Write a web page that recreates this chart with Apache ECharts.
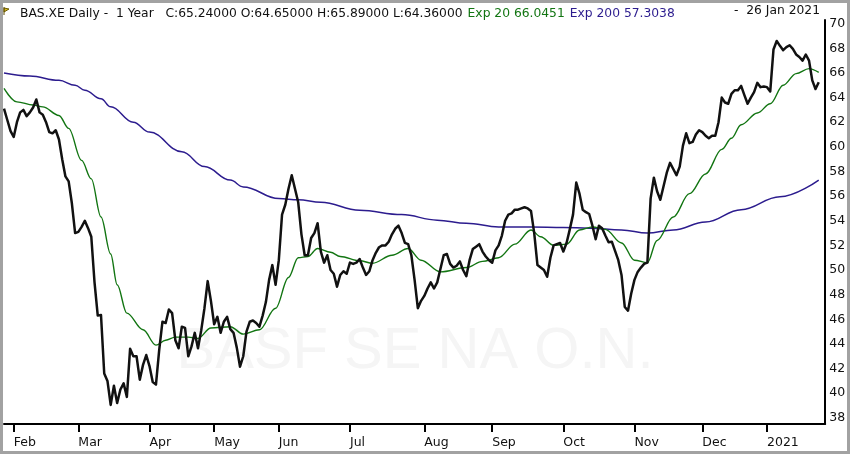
<!DOCTYPE html>
<html>
<head>
<meta charset="utf-8">
<script src="https://cdn.jsdelivr.net/npm/echarts@6.0.0/dist/echarts.min.js"></script>
<style>
  html, body { margin: 0; padding: 0; background: #fff; }
  #chart { width: 850px; height: 454px; }
</style>
</head>
<body>
<div id="chart"></div>
<script>
// ---- calendar (XETRA trading days) ----
const firstDay = '2020-01-29';
const lastDay = '2021-01-28';
const holidays = ['2020-04-10', '2020-04-13', '2020-05-01', '2020-12-24', '2020-12-25', '2020-12-31', '2021-01-01'];
const monthNames = ['Jan', 'Feb', 'Mar', 'Apr', 'May', 'Jun', 'Jul', 'Aug', 'Sep', 'Oct', 'Nov', 'Dec'];
const yTicks = [38, 40, 42, 44, 46, 48, 50, 52, 54, 56, 58, 60, 62, 64, 66, 68, 70];

// ---- daily closes, BAS.XE (one per trading day from 2020-01-29 to 2021-01-26) ----
const closes = [
  63.1, 62.2, 61.3, 60.8, 62.0, 62.8, 63.0, 62.5, 62.8, 63.2,
  63.85, 62.8, 62.6, 62.0, 61.2, 61.1, 61.35, 60.6, 59.0, 57.6,
  57.2, 55.4, 53.0, 53.1, 53.5, 54.0, 53.4, 52.7, 49.0, 46.3,
  46.35, 41.6, 41.0, 39.05, 40.6, 39.2, 40.3, 40.8, 39.7, 43.6,
  43.0, 43.0, 41.1, 42.3, 43.1, 42.2, 40.9, 40.7, 43.5, 45.8,
  45.7, 46.8, 46.5, 44.3, 43.65, 45.4, 45.3, 43.0, 43.8, 44.9,
  43.65, 45.1, 46.9, 49.1, 47.5, 45.6, 46.2, 44.9, 45.8, 46.2,
  45.2, 44.9, 43.7, 42.15, 43.0, 45.0, 45.8, 45.9, 45.7, 45.4,
  46.3, 47.4, 49.2, 50.4, 48.8, 50.8, 54.5, 55.3, 56.6, 57.7,
  56.6, 55.5, 52.9, 51.2, 51.2, 52.6, 53.0, 53.8, 51.5, 50.6,
  51.2, 50.0, 49.7, 48.65, 49.6, 49.9, 49.7, 50.6, 50.5, 50.6,
  50.9, 50.2, 49.6, 49.9, 50.8, 51.4, 51.85, 52.0, 52.0, 52.3,
  52.9, 53.35, 53.6, 53.0, 52.2, 52.1, 51.2, 49.2, 46.9, 47.5,
  47.9, 48.5, 49.0, 48.5, 49.0, 50.1, 51.2, 51.3, 50.5, 50.2,
  50.35, 50.7, 50.0, 49.5, 50.8, 51.7, 51.9, 52.1, 51.5, 51.1,
  50.8, 50.6, 51.6, 52.0, 52.8, 54.0, 54.5, 54.6, 54.9, 54.9,
  55.0, 55.1, 55.0, 54.8, 53.0, 50.4, 50.2, 50.0, 49.45, 51.0,
  52.0, 52.1, 52.2, 51.5, 52.2, 53.3, 54.5, 57.1, 56.2, 54.9,
  54.7, 54.55, 53.6, 52.5, 53.6, 53.4, 52.8, 52.25, 52.3, 51.55,
  50.8, 49.6, 47.0, 46.7, 48.1, 49.2, 49.85, 50.2, 50.5, 50.6,
  55.8, 57.5, 56.4, 55.7, 56.8, 57.9, 58.7, 58.2, 57.7, 58.4,
  60.1, 61.1, 60.3, 60.4, 61.0, 61.35, 61.2, 60.9, 60.7, 60.9,
  60.9, 62.0, 64.0, 63.6, 63.5, 64.3, 64.6, 64.6, 64.95, 64.2,
  63.5, 64.0, 64.45, 65.2, 64.85, 64.9, 64.85, 64.5, 67.9, 68.6,
  68.2, 67.85, 68.1, 68.25, 67.95, 67.5, 67.3, 67.0, 67.5, 67.0,
  65.4, 64.7, 65.24
];

// ---- moving averages: [trading-day number, value] ----
const ema20Pts = [
  [0, 64.75], [4, 63.65], [9, 63.4], [12, 63.25], [17, 62.55], [20, 61.5], [24, 58.9],
  [27, 57.4], [30, 54.3], [33, 51.3], [35, 48.8], [38, 46.5], [43, 45.15], [47, 43.9],
  [50, 44.3], [53, 44.55], [57, 44.55], [60, 44.45], [64, 45.3], [70, 45.4], [74, 44.8],
  [79, 45.15], [84, 46.9], [88, 49.4], [91, 51.0], [94, 51.1], [97, 51.75], [101, 51.45],
  [104, 51.1], [110, 50.75], [114, 50.55], [120, 51.2], [125, 51.75], [129, 50.8],
  [135, 49.85], [143, 50.2], [148, 50.7], [153, 51.0], [158, 52.1], [163, 53.25],
  [166, 52.7], [170, 52.0], [174, 52.1], [178, 53.25], [182, 53.5], [186, 53.3],
  [191, 52.2], [195, 50.8], [199, 50.6], [202, 52.4], [207, 54.3], [212, 56.2],
  [217, 57.8], [222, 59.8], [225, 60.7], [228, 61.8], [233, 62.75], [237, 63.5],
  [241, 65.0], [245, 65.95], [249, 66.35], [252, 66.05]
];
const ema200Pts = [
  [0, 66.0], [8, 65.75], [17, 65.4], [22, 65.0], [25, 64.6], [30, 63.9], [33, 63.25],
  [40, 62.0], [45, 61.2], [55, 59.6], [62, 58.4], [70, 57.3], [74, 56.75], [85, 55.8],
  [91, 55.7], [98, 55.5], [110, 54.85], [123, 54.5], [134, 54.05], [143, 53.8],
  [153, 53.5], [163, 53.5], [173, 53.45], [181, 53.4], [191, 53.25], [199, 53.0],
  [207, 53.25], [217, 53.9], [228, 54.9], [240, 55.95], [252, 57.3]
];

function buildDates(start, end) {
  const out = [];
  const d = new Date(start + 'T00:00:00Z');
  const e = new Date(end + 'T00:00:00Z');
  while (d <= e) {
    const wd = d.getUTCDay();
    const s = d.toISOString().slice(0, 10);
    if (wd !== 0 && wd !== 6 && holidays.indexOf(s) < 0) out.push(s);
    d.setUTCDate(d.getUTCDate() + 1);
  }
  return out;
}
const dates = buildDates(firstDay, lastDay);
const isMonthStart = dates.map((s, i) => i > 0 && s.slice(5, 7) !== dates[i - 1].slice(5, 7));
function monthLabel(s) {
  const m = +s.slice(5, 7);
  return m === 1 ? s.slice(0, 4) : monthNames[m - 1];
}
const toXY = pts => pts.map(p => [dates[p[0]], p[1]]);

const FONT = '"DejaVu Sans", "Liberation Sans", sans-serif';
const GREEN = '#127512';
const PURPLE = '#2c1c8e';
const hdr = (color) => ({ color: color, fontSize: 12.3, fontWeight: 'normal', fontFamily: FONT });

const chart = echarts.init(document.getElementById('chart'), null, { renderer: 'canvas' });
chart.setOption({
  animation: false,
  backgroundColor: '#ffffff',
  title: [{
    left: 15, top: 0,
    text: '{a|BAS.XE Daily -  1 Year   C:65.24000 O:64.65000 H:65.89000 L:64.36000} {g|Exp 20 66.0451} {p|Exp 200 57.3038}',
    textStyle: {
      fontWeight: 'normal',
      rich: { a: hdr('#111'), g: hdr(GREEN), p: hdr(PURPLE) }
    }
  }, {
    right: 25, top: 0,
    text: '-  26 Jan 2021',
    textStyle: hdr('#111')
  }],
  grid: { left: 4, right: 24.8, top: 20, bottom: 30, containLabel: false },
  xAxis: {
    type: 'category',
    data: dates,
    boundaryGap: false,
    axisLine: { lineStyle: { color: '#000', width: 2 } },
    axisTick: {
      interval: (i) => isMonthStart[i],
      length: 8,
      lineStyle: { color: '#000', width: 2 }
    },
    axisLabel: {
      interval: (i) => isMonthStart[i],
      formatter: (v) => monthLabel(v),
      align: 'left',
      margin: 12,
      color: '#111',
      fontSize: 12.5,
      fontFamily: FONT
    },
    splitLine: { show: false }
  },
  yAxis: {
    type: 'value',
    position: 'right',
    min: 37.5,
    max: 70.3,
    axisLine: { show: true, lineStyle: { color: '#000', width: 2 } },
    axisTick: { show: false },
    splitLine: { show: false },
    axisLabel: {
      customValues: yTicks,
      margin: 4,
      color: '#111',
      fontSize: 12.5,
      fontFamily: FONT
    }
  },
  graphic: [
    {
      type: 'text', z: 0, silent: true,
      style: {
        text: 'BASF SE NA O.N.',
        x: 415, y: 352,
        align: 'center', verticalAlign: 'middle',
        font: '58px "Liberation Sans", sans-serif',
        fill: '#f5f5f5'
      }
    },
    {
      type: 'polygon', silent: true,
      shape: { points: [[4, 8], [9, 9], [4, 12]] },
      style: { fill: '#e0c020', stroke: '#6b5a00', lineWidth: 1 }
    },
    {
      type: 'line', silent: true,
      shape: { x1: 4, y1: 7, x2: 4, y2: 15 },
      style: { stroke: '#5a4a00', lineWidth: 1 }
    },
    {
      type: 'rect', silent: true, z: 100,
      shape: { x: 1.5, y: 1.5, width: 847, height: 451 },
      style: { fill: 'none', stroke: '#a2a2a2', lineWidth: 3 }
    }
  ],
  series: [
    {
      name: 'Exp 200', type: 'line', data: toXY(ema200Pts),
      showSymbol: false, smooth: 0.4, smoothMonotone: 'x',
      lineStyle: { color: PURPLE, width: 1.5 }, z: 3
    },
    {
      name: 'Exp 20', type: 'line', data: toXY(ema20Pts),
      showSymbol: false, smooth: 0.35, smoothMonotone: 'x',
      lineStyle: { color: GREEN, width: 1.4 }, z: 4
    },
    {
      name: 'Close', type: 'line', data: closes,
      showSymbol: false,
      lineStyle: { color: '#111', width: 2.5, join: 'round' }, z: 5
    }
  ]
});
</script>
</body>
</html>
